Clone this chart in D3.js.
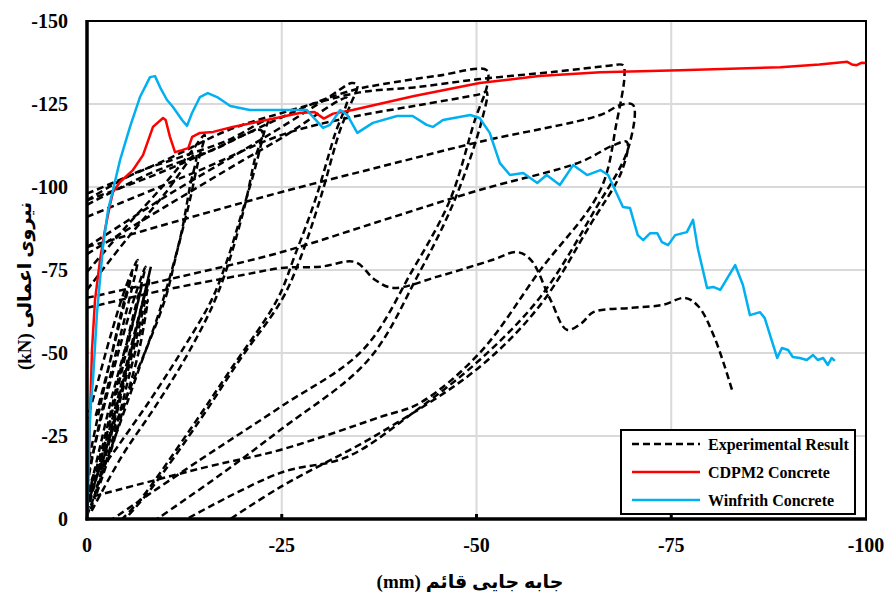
<!DOCTYPE html>
<meta charset="utf-8">
<style>
    body { margin: 0; background: #fff; }
    .tick-label { font-family: "Liberation Serif", "Times New Roman", serif; font-weight: bold; font-size: 20px; }
    .legend text { font-family: "Liberation Serif", "Times New Roman", serif; font-weight: bold; font-size: 16px; }
    .title { font-family: "Liberation Serif", "Times New Roman", "DejaVu Sans", serif; font-weight: bold; font-size: 19px; }
</style>
<svg id="chart" width="887" height="594"></svg>
<script src="https://cdn.jsdelivr.net/npm/d3@7"></script>
<script>
    // displacement (mm), force (kN)
    var xTicks = [0, -25, -50, -75, -100];
    var yTicks = [0, -25, -50, -75, -100, -125, -150];
    var seriesNames = ["Experimental Result", "CDPM2 Concrete", "Winfrith Concrete"];

    var cdpm2 = [[0,0],[-0.26,-20.8],[-0.64,-50.9],[-1.03,-66],[-1.67,-78],[-2.3,-87],[-2.95,-94.6],[-3.34,-98.5],
        [-4.24,-101.5],[-5.9,-105.1],[-7.19,-109.6],[-8.47,-118.1],[-9.76,-120.8],[-10.1,-120.2],[-10.65,-115.1],
        [-11.3,-110.5],[-12.2,-111.1],[-13,-111.7],[-13.5,-115.1],[-14.5,-116.3],[-16.2,-116.6],[-18.7,-118.1],
        [-23.1,-120.2],[-27.3,-122.3],[-29.2,-122.6],[-30.4,-120.6],[-31.6,-122.1],[-34.1,-123.2],[-42,-127.4],
        [-50.4,-131.3],[-58,-133.4],[-65.9,-134.6],[-76.1,-135.2],[-89,-136.1],[-94,-136.9],[-97.6,-137.7],
        [-98.2,-136.9],[-98.8,-136.7],[-99.4,-137.4],[-100.1,-137.3]];

    var winfrith = [[0,0],[-0.39,-31.9],[-0.77,-41.9],[-1.28,-62],[-2.05,-81.9],[-2.7,-93.1],[-3.34,-99.1],
        [-4.24,-108.1],[-5.52,-118.1],[-6.8,-127.1],[-8.09,-133.1],[-8.73,-133.4],[-9.37,-130.1],[-10.27,-126.2],
        [-11.04,-124.1],[-12.2,-120.2],[-12.84,-118.4],[-13.48,-122.3],[-14.5,-127.1],[-15.5,-128.3],[-16.7,-127.1],
        [-18.4,-124.4],[-20.9,-123.2],[-24.8,-123.2],[-28.2,-123.2],[-30.3,-117.8],[-31.2,-118.7],[-32.5,-123.2],
        [-33.4,-121.7],[-34.7,-116.3],[-36.7,-119.3],[-39.8,-121.4],[-41.8,-121.4],[-43.6,-118.7],[-44.4,-118.1],
        [-45.7,-120.2],[-49.2,-121.7],[-50.4,-120.8],[-51.7,-116.3],[-53,-107.2],[-54.3,-103.6],[-56,-104.2],
        [-57.8,-101.2],[-59,-103.6],[-60.7,-100.6],[-62.4,-106.6],[-64.2,-103.6],[-65.9,-105.1],[-66.9,-103.6],
        [-68.8,-94],[-69.7,-93.7],[-70.7,-85.5],[-71.4,-84],[-72.3,-86.1],[-73.2,-86.1],[-73.8,-83.4],[-74.6,-82.5],
        [-75.5,-85.5],[-77,-86.4],[-77.8,-90.1],[-78.4,-81.6],[-79.6,-69.6],[-80.4,-69.9],[-81.3,-69],[-83.2,-76.5],
        [-84.2,-70.5],[-85.1,-61.4],[-86.4,-62.3],[-87,-60.5],[-88.6,-48.5],[-89.2,-51.5],[-90,-50.9],[-90.6,-48.8],
        [-91.5,-48.5],[-92.4,-47.9],[-93.2,-49.4],[-93.8,-47.9],[-94.5,-48.5],[-95.1,-46.4],[-95.6,-48.5],[-96,-47.6]];

    // experimental cycles, each one drawn as its own dashed trace
    var experimental = [
        [[0,-2],[-1.5,-15],[-3,-30],[-4.5,-45],[-6,-60],[-7,-70],[-6.2,-62],[-4.5,-48],[-3,-35],[-1.5,-20],[-0.3,-8]],
        [[0,-5],[-2,-22],[-4,-42],[-5.8,-60],[-7.5,-76],[-6,-66],[-4,-50],[-2.2,-34],[-0.8,-20],[0,-12]],
        [[-0.5,-3],[-2.5,-20],[-4.5,-38],[-6.5,-56],[-8,-72],[-7,-64],[-5,-46],[-3,-28],[-1,-12]],
        [[0,-10],[-1.5,-28],[-3.5,-48],[-5,-62],[-6.5,-78],[-5,-70],[-3,-55],[-1,-38],[0,-30]],
        [[0,-1],[-2,-14],[-4,-30],[-5.5,-44],[-7,-58],[-7.8,-66],[-6.8,-52],[-5,-36],[-3,-20],[-1,-6]],
        [[0,-4],[-2.8,-24],[-5,-44],[-6.8,-62],[-8.2,-76],[-7.4,-68],[-5.8,-52],[-3.8,-34],[-1.8,-16],[0,-8]],
        [[0,-15],[-1.5,-32],[-3.2,-50],[-4.8,-66],[-5.8,-74],[-4.5,-62],[-2.8,-46],[-1,-30]],
        [[0,-74.4],[-5,-88],[-10,-101],[-13.5,-111],[-15.1,-115.7],[-14.3,-108],[-13.2,-96],[-11.5,-80],[-10,-66],[-6,-42],[-3,-25],[-0.6,-11.7],[0,-5]],
        [[0,-69],[-5,-84],[-10,-98],[-14,-110],[-13.2,-100],[-12,-85],[-9.5,-64],[-6.5,-44],[-3.5,-24],[-1,-8]],
        [[0,-96],[-6,-104],[-12,-109],[-18,-114],[-23.2,-120],[-22.8,-117],[-21.5,-105],[-19.6,-90],[-18,-78],[-16,-66],[-12,-50],[-8.1,-35.8],[-4,-22],[-1,-11.7],[0,-4]],
        [[0,-94.6],[-8,-104],[-16,-111],[-22.4,-117],[-21.5,-108],[-20,-92],[-16.8,-68],[-13,-50],[-8.8,-34],[-4.5,-19],[-0.5,-2]],
        [[0,-81.9],[-10,-97],[-20,-111],[-25,-118.1],[-31,-127],[-34,-131.3],[-34.7,-130.7],[-33.8,-124.7],[-32.5,-117.2],[-29.9,-96.1],[-27.3,-78],[-25,-66],[-19.6,-47.9],[-14.5,-29.8],[-8.1,-8.7],[-4.9,0]],
        [[0,-79.8],[-10,-94],[-20,-108],[-25,-114.8],[-32.5,-126.2],[-33.4,-126.8],[-31.8,-115.7],[-29.3,-96.1],[-26.7,-79.5],[-24.4,-66],[-18.4,-44.9],[-13.2,-26.8],[-6.8,-5.7],[-4.5,0]],
        [[0,-96],[-8,-103],[-15,-110],[-25,-121],[-30,-126],[-34.7,-129.5],[-38,-131],[-45,-133.5],[-51.3,-135.2],[-51.4,-131],[-49.8,-120.2],[-46.6,-96.1],[-41.8,-75],[-35.4,-50.9],[-24.8,-33.7],[-14.5,-17.8],[-3.3,0]],
        [[0,-91],[-14.5,-105.1],[-25,-115.7],[-33.4,-120.8],[-42.7,-124.7],[-50.5,-128],[-51.3,-128.6],[-50.7,-120.2],[-47.2,-96.1],[-42.5,-73.5],[-36.1,-47.9],[-24.8,-26.8],[-17.1,-13.3],[-9,0]],
        [[0,-98],[-10,-108],[-18,-117],[-25,-122.3],[-35,-128.5],[-42,-130],[-50.4,-132.5],[-60,-134.7],[-67,-136.5],[-68.8,-136.7],[-69,-133.7],[-68,-119.6],[-65.9,-99.1],[-58.2,-75],[-50.4,-50],[-42.7,-34.9],[-37.6,-30.7],[-24.8,-20.8],[-15.4,-15.7],[0,-6.3]],
        [[0,-81.9],[-12,-90],[-25,-98.5],[-38,-106.3],[-50.4,-113.6],[-65.9,-121.7],[-68.5,-124.7],[-70.1,-124.7],[-69.4,-111.1],[-65.2,-93.1],[-58.2,-66.9],[-50.4,-47.9],[-41.8,-31.9],[-33.4,-18.7],[-24.8,-13.9],[-12.8,0]],
        [[0,-66.6],[-12,-73],[-25,-80.4],[-38,-90],[-50.4,-99.1],[-63.3,-107.5],[-67.5,-112.5],[-69.3,-113.6],[-68.7,-105.1],[-64.6,-88.6],[-58.2,-64.5],[-50.4,-45.8],[-37.6,-25.9],[-24.8,-9.6],[-18.4,0]],
        [[0,-63.6],[-10,-69],[-20,-73.5],[-25,-75.6],[-30,-76],[-34.4,-77.4],[-37,-72],[-39.3,-69.6],[-45,-73],[-52,-78],[-55.2,-80.4],[-57,-78],[-59.5,-66],[-61.6,-57],[-63.5,-59],[-65,-62.3],[-70,-63.6],[-73.9,-64.5],[-76.8,-66.6],[-78.5,-64],[-80.5,-55],[-82.8,-38.9]]
    ];

    var svg = d3.select("#chart"),
        plotLeft = 87, plotRight = 866, plotTop = 21, plotBottom = 519;

    var x = d3.scaleLinear().domain([0, -100]).range([plotLeft, plotRight]);
    var y = d3.scaleLinear().domain([0, -150]).range([plotBottom, plotTop]);

    svg.append("rect").attr("width", 887).attr("height", 594).attr("fill", "#fff");

    // grid
    svg.append("g").selectAll("line").data(xTicks.slice(1, -1)).enter().append("line")
        .attr("x1", function (d) { return x(d); }).attr("x2", function (d) { return x(d); })
        .attr("y1", plotTop).attr("y2", plotBottom)
        .attr("stroke", "#d9d9d9").attr("stroke-width", 2);
    svg.append("g").selectAll("line").data(yTicks.slice(1, -1)).enter().append("line")
        .attr("y1", function (d) { return y(d); }).attr("y2", function (d) { return y(d); })
        .attr("x1", plotLeft).attr("x2", plotRight)
        .attr("stroke", "#d9d9d9").attr("stroke-width", 2);

    svg.append("clipPath").attr("id", "plot-clip").append("rect")
        .attr("x", plotLeft).attr("y", plotTop).attr("width", plotRight - plotLeft).attr("height", plotBottom - plotTop);

    var plot = svg.append("g").attr("clip-path", "url(#plot-clip)");

    var smooth = d3.line().x(function (d) { return x(d[0]); }).y(function (d) { return y(d[1]); })
        .curve(d3.curveCatmullRom.alpha(0.5));
    var straight = d3.line().x(function (d) { return x(d[0]); }).y(function (d) { return y(d[1]); });

    plot.append("g").selectAll("path").data(experimental).enter().append("path")
        .attr("d", smooth)
        .attr("fill", "none").attr("stroke", "#000").attr("stroke-width", 2.5)
        .attr("stroke-dasharray", "7,4");

    plot.append("path").datum(cdpm2).attr("d", straight)
        .attr("fill", "none").attr("stroke", "#ff0000").attr("stroke-width", 2.5).attr("stroke-linejoin", "round");
    plot.append("path").datum(winfrith).attr("d", straight)
        .attr("fill", "none").attr("stroke", "#00b0f0").attr("stroke-width", 2.5).attr("stroke-linejoin", "round");

    // frame
    svg.append("rect").attr("x", plotLeft).attr("y", plotTop).attr("width", plotRight - plotLeft).attr("height", plotBottom - plotTop)
        .attr("fill", "none").attr("stroke", "#000").attr("stroke-width", 2);
    svg.append("line").attr("x1", plotLeft).attr("x2", plotLeft).attr("y1", plotTop - 1).attr("y2", plotBottom + 1.5)
        .attr("stroke", "#000").attr("stroke-width", 3.5);
    svg.append("line").attr("x1", plotLeft - 1.5).attr("x2", plotRight + 1).attr("y1", plotBottom).attr("y2", plotBottom)
        .attr("stroke", "#000").attr("stroke-width", 3.5);

    // inner tick marks on the bottom axis
    svg.append("g").selectAll("line").data(xTicks.slice(1, -1)).enter().append("line")
        .attr("x1", function (d) { return x(d); }).attr("x2", function (d) { return x(d); })
        .attr("y1", plotBottom).attr("y2", plotBottom - 5)
        .attr("stroke", "#000").attr("stroke-width", 3);

    // tick labels
    svg.append("g").selectAll("text").data(yTicks).enter().append("text")
        .attr("class", "tick-label")
        .attr("x", 68).attr("y", function (d) { return y(d); })
        .attr("dy", "0.35em").attr("text-anchor", "end")
        .text(function (d) { return d; });
    svg.append("g").selectAll("text").data(xTicks).enter().append("text")
        .attr("class", "tick-label")
        .attr("x", function (d) { return x(d); }).attr("y", 552)
        .attr("text-anchor", "middle")
        .text(function (d) { return d; });

    // axis titles
    svg.append("text").attr("class", "title")
        .attr("transform", "translate(31,286) rotate(-90)")
        .attr("text-anchor", "middle").attr("direction", "rtl")
        .text("نیروی اعمالی (kN)");
    svg.append("text").attr("class", "title")
        .attr("x", 470).attr("y", 588)
        .attr("text-anchor", "middle").attr("direction", "rtl")
        .text("جابه جایی قائم (mm)");

    // legend
    var legend = svg.append("g").attr("class", "legend");
    legend.append("rect").attr("x", 621).attr("y", 430).attr("width", 234).attr("height", 84)
        .attr("fill", "#fff").attr("stroke", "#000").attr("stroke-width", 2);
    var styles = [["#000", "7,4"], ["#ff0000", null], ["#00b0f0", null]];
    seriesNames.forEach(function (name, i) {
        var ly = 444 + i * 28;
        legend.append("line").attr("x1", 632).attr("x2", 700).attr("y1", ly).attr("y2", ly)
            .attr("stroke", styles[i][0]).attr("stroke-width", 2.5)
            .attr("stroke-dasharray", styles[i][1]);
        legend.append("text").attr("x", 708).attr("y", ly).attr("dy", "0.35em").text(name);
    });
</script>
